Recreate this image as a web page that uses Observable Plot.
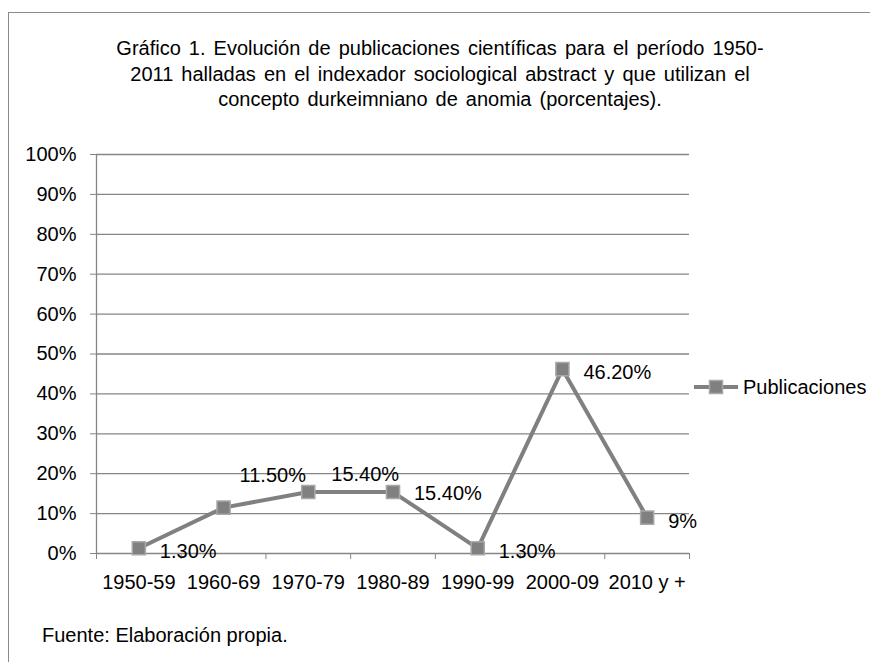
<!DOCTYPE html>
<html><head><meta charset="utf-8">
<script src="https://cdn.jsdelivr.net/npm/d3@7"></script>
<script src="https://cdn.jsdelivr.net/npm/@observablehq/plot@0.6"></script>
<style>
html,body{margin:0;padding:0;background:#fff;width:870px;height:662px;overflow:hidden;font-family:"Liberation Sans",Arial,sans-serif;color:#000;}
#frame{position:absolute;left:8px;top:12px;width:900px;height:700px;border:1.5px solid #8a8a8a;box-sizing:border-box;}
#title{position:absolute;left:0;width:880px;top:36px;text-align:center;font-size:20px;line-height:25.5px;word-spacing:2.5px;}
#chart{position:absolute;left:0;top:130px;}
#legend{position:absolute;left:690px;top:375px;}
#caption{position:absolute;left:42px;top:624px;font-size:20px;}
</style></head><body>
<div id="frame"></div>
<div id="title">Gráfico 1. Evolución de publicaciones científicas para el período 1950-<br>2011 halladas en el indexador sociological abstract y que utilizan el<br>concepto durkeimniano de anomia (porcentajes).</div>
<div id="chart"></div>
<div id="legend"></div>
<div id="caption">Fuente: Elaboración propia.</div>
<script>
const categories = ["1950-59","1960-69","1970-79","1980-89","1990-99","2000-09","2010 y +"];
const values = [1.3, 11.5, 15.4, 15.4, 1.3, 46.2, 9];
const valueLabels = ["1.30%","11.50%","15.40%","15.40%","1.30%","46.20%","9%"];
const yTicks = [0,10,20,30,40,50,60,70,80,90,100];
const seriesName = "Publicaciones";

const data = categories.map((c, i) => ({cat: c, i, pos: i + 0.5, v: values[i], label: valueLabels[i]}));
const labelDy = [3, -32, -17, 2, 3, 3, 4];
const labelDx = [21, 16, 23, 21, 21, 21, 21];

const grey = "#808080";
const gridC = "#868686";
const font = "'Liberation Sans', Arial, sans-serif";

const chart = Plot.plot({
  width: 870,
  height: 470,
  marginLeft: 96,
  marginRight: 181,
  marginTop: 24,
  marginBottom: 47,
  style: {fontFamily: font, fontSize: "20px", color: "#000", background: "transparent"},
  x: {type: "linear", domain: [0, categories.length], axis: null},
  y: {domain: [0, 100], axis: null},
  marks: [
    Plot.gridY(yTicks, {stroke: gridC, strokeOpacity: 1, strokeWidth: 1.3}),
    Plot.axisY(yTicks, {label: null, tickSize: 6, tickPadding: 14, stroke: gridC, tickFormat: d => d + "%", fontSize: 20}),
    Plot.ruleX([0], {y1: 0, y2: 100, stroke: gridC, strokeWidth: 1.3}),
    Plot.axisX(d3.range(categories.length + 1), {label: null, tickSize: 6, stroke: gridC, tickFormat: () => ""}),
    Plot.axisX(data.map(d => d.pos), {label: null, tickSize: 0, tickPadding: 21, tickFormat: d => categories[Math.floor(d)], fontSize: 20, letterSpacing: "0.3px"}),
    Plot.line(data, {x: "pos", y: "v", stroke: grey, strokeWidth: 4}),
    Plot.dot(data, {x: "pos", y: "v", symbol: "square", r: 7.4, fill: grey, stroke: "#a8a8a8", strokeWidth: 1.5}),
    ...data.map(d => Plot.text([d], {x: "pos", y: "v", text: "label", textAnchor: "start", dx: labelDx[d.i], dy: labelDy[d.i], fontSize: 20, fill: "#000"}))
  ]
});
document.getElementById("chart").appendChild(chart);

// legend
const lg = d3.select("#legend").append("svg").attr("width", 180).attr("height", 26);
lg.append("line").attr("x1", 4).attr("x2", 48).attr("y1", 12).attr("y2", 12).attr("stroke", grey).attr("stroke-width", 4);
lg.append("rect").attr("x", 19.5).attr("y", 5.5).attr("width", 13).attr("height", 13).attr("fill", grey).attr("stroke", "#a8a8a8").attr("stroke-width", 1.5);
lg.append("text").attr("x", 53).attr("y", 12).attr("dy", "0.35em").attr("font-size", 20).attr("font-family", font).text(seriesName);
</script>
</body></html>
